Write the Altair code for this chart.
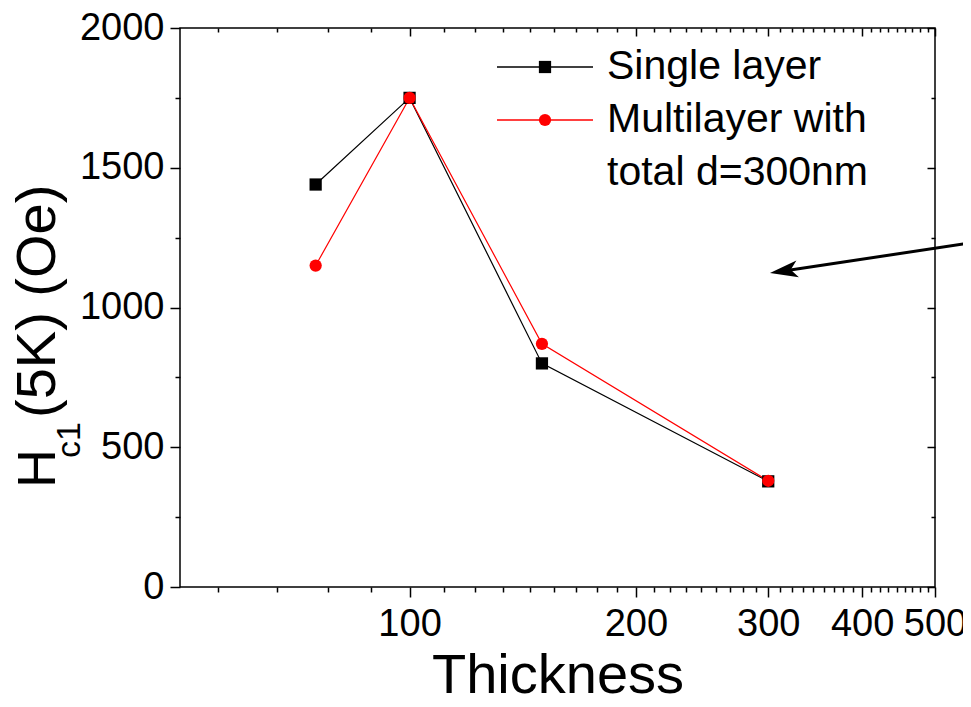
import altair as alt
import pandas as pd

# ---- data ----
thickness = [75, 100, 150, 300]
single_layer = [1440, 1750, 800, 378]
multilayer = [1150, 1750, 870, 380]
series_names = ["Single layer", "Multilayer"]
series_colors = ["#000000", "#ff0000"]
series_shapes = ["square", "circle"]
legend_labels = ["Single layer", "Multilayer with", "total d=300nm"]

x_major = [100, 200, 300, 400, 500]
x_minor = [round(a + 100 * k / 9, 3) for a in range(0, 500, 100) for k in range(1, 9) if a + 100 * k / 9 > 49.5]
y_major = [0, 500, 1000, 1500, 2000]
y_minor = [250, 750, 1250, 1750]

FONT = "Liberation Sans"

df = pd.DataFrame({
    "thickness": thickness + thickness,
    "hc1": single_layer + multilayer,
    "series": [series_names[0]] * len(thickness) + [series_names[1]] * len(thickness),
})

x_scale = alt.Scale(type="log", domain=[49.5, 500], nice=False)
y_scale = alt.Scale(domain=[0, 2000], nice=False, zero=False)
color_scale = alt.Scale(domain=series_names, range=series_colors)
shape_scale = alt.Scale(domain=series_names, range=series_shapes)

common_axis = dict(domain=False, grid=False, tickColor="black", tickWidth=1.5)

x_main_axis = alt.Axis(orient="bottom", values=x_major, format="d", tickSize=10,
                       labelPadding=8, labelFont=FONT, labelFontSize=38, labelColor="black",
                       labelOverlap=False, labelFlush=False,
                       title="Thickness", titleFont=FONT, titleFontSize=56,
                       titleFontWeight="normal", titleColor="black", titlePadding=5,
                       **common_axis)
y_main_axis = alt.Axis(orient="left", values=y_major, format="d", tickSize=10,
                       labelPadding=6, labelFont=FONT, labelFontSize=38, labelColor="black",
                       labelOverlap=False, title=None, **common_axis)

lines = alt.Chart(df).mark_line(strokeWidth=1.2).encode(
    x=alt.X("thickness:Q", scale=x_scale, axis=x_main_axis),
    y=alt.Y("hc1:Q", scale=y_scale, axis=y_main_axis),
    color=alt.Color("series:N", scale=color_scale, legend=None),
)

points = alt.Chart(df).mark_point(filled=True, size=150, opacity=1).encode(
    x=alt.X("thickness:Q", scale=x_scale, axis=None),
    y=alt.Y("hc1:Q", scale=y_scale, axis=None),
    color=alt.Color("series:N", scale=color_scale, legend=None),
    shape=alt.Shape("series:N", scale=shape_scale, legend=None),
)


def axis_layer(xaxis, yaxis):
    return alt.Chart(df).mark_point(opacity=0).encode(
        x=alt.X("thickness:Q", scale=x_scale, axis=xaxis),
        y=alt.Y("hc1:Q", scale=y_scale, axis=yaxis),
    )


minor_out = axis_layer(
    alt.Axis(orient="bottom", values=x_minor, tickSize=5, labels=False, title=None, **common_axis),
    alt.Axis(orient="left", values=y_minor, tickSize=5, labels=False, title=None, **common_axis),
)
major_in = axis_layer(
    alt.Axis(orient="top", values=x_major, tickSize=8, offset=-8, labels=False, title=None, **common_axis),
    alt.Axis(orient="right", values=y_major, tickSize=8, offset=-8, labels=False, title=None, **common_axis),
)
minor_in = axis_layer(
    alt.Axis(orient="top", values=x_minor, tickSize=4, offset=-4, labels=False, title=None, **common_axis),
    alt.Axis(orient="right", values=y_minor, tickSize=4, offset=-4, labels=False, title=None, **common_axis),
)

one = pd.DataFrame({"k": [0]})

# ---- legend (drawn inside the plot, top right) ----
leg_rows = [39, 92]
leg_layers = []
for i, name in enumerate(series_names):
    leg_layers.append(
        alt.Chart(one).mark_rule(color=series_colors[i], strokeWidth=1.5).encode(
            x=alt.value(317), x2=alt.value(413), y=alt.value(leg_rows[i]))
    )
    leg_layers.append(
        alt.Chart(one).mark_point(filled=True, size=150, opacity=1, color=series_colors[i],
                                  shape=series_shapes[i]).encode(
            x=alt.value(365), y=alt.value(leg_rows[i]))
    )
for j, lab in enumerate(legend_labels):
    leg_layers.append(
        alt.Chart(one).mark_text(text=lab, font=FONT, fontSize=41, align="left",
                                 baseline="middle", color="black").encode(
            x=alt.value(427), y=alt.value(39 + 53 * j))
    )

# ---- y-axis title with subscript ----
ytitle = [
    alt.Chart(one).mark_text(text="H", font=FONT, fontSize=54, angle=270, align="left",
                             baseline="alphabetic", color="black").encode(
        x=alt.value(-125), y=alt.value(460)),
    alt.Chart(one).mark_text(text="c1", font=FONT, fontSize=34, angle=270, align="left",
                             baseline="alphabetic", color="black").encode(
        x=alt.value(-100), y=alt.value(430)),
    alt.Chart(one).mark_text(text="(5K) (Oe)", font=FONT, fontSize=56, angle=270, align="left",
                             baseline="alphabetic", color="black").encode(
        x=alt.value(-125), y=alt.value(390)),
]

# ---- arrow annotation ----
arrow_line = alt.Chart(one).mark_rule(color="black", strokeWidth=3).encode(
    x=alt.value(800), y=alt.value(213.5), x2=alt.value(602), y2=alt.value(243.2))
arrow_head = alt.Chart(one).mark_point(
    shape="M-1,0L1,-0.6L0.5,0L1,0.6Z", filled=True, size=784, opacity=1,
    color="black", angle=351.5).encode(x=alt.value(603.8), y=alt.value(242.9))

chart = alt.layer(
    minor_out, major_in, minor_in, lines, points, *leg_layers, *ytitle, arrow_line, arrow_head
).resolve_axis(x="independent", y="independent").properties(
    width=755, height=559,
    autosize=alt.AutoSizeParams(type="none"),
    padding={"left": 172, "top": 20, "right": 28, "bottom": 114},
    background="white",
).configure_view(stroke="black", strokeWidth=1.5)

chart.save("out.html", embed_options={"renderer": "svg", "actions": False})
